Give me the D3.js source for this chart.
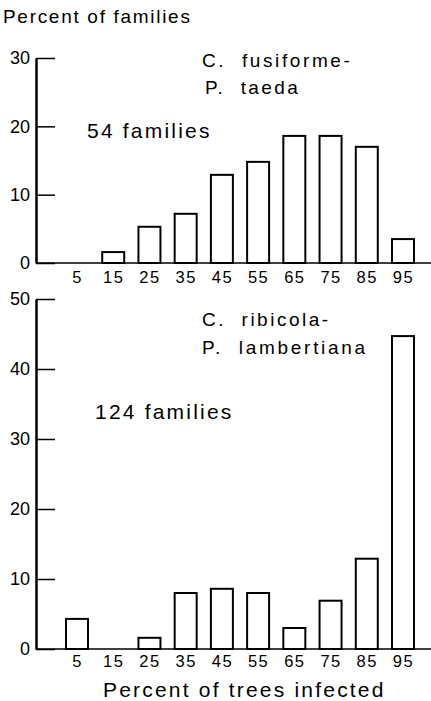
<!DOCTYPE html>
<html>
<head>
<meta charset="utf-8">
<script src="https://cdn.jsdelivr.net/npm/d3@7"></script>
<style>
  body { margin: 0; background: #fff; }
  svg text { font-family: "Liberation Sans", Arial, sans-serif; fill: #000; }
</style>
</head>
<body>
<div id="chart"></div>
<script>
// midpoints of infection classes (percent of trees infected)
const classes = [5, 15, 25, 35, 45, 55, 65, 75, 85, 95];

// C. fusiforme - P. taeda, 54 families
const fusiforme = [0, 1.6, 5.3, 7.2, 12.9, 14.8, 18.6, 18.6, 17.0, 3.5];
// C. ribicola - P. lambertiana, 124 families
const ribicola = [4.3, 0, 1.6, 8.0, 8.6, 8.0, 3.0, 6.9, 12.9, 44.7];

const topTicks = [0, 10, 20, 30];
const bottomTicks = [0, 10, 20, 30, 40, 50];

const width = 431;
const height = 701;
const axisX = 36;

const svg = d3.select("#chart")
    .append("svg")
    .attr("width", width)
    .attr("height", height);

const xScale = d3.scaleLinear()
    .domain([5, 95])
    .range([77, 403]);

const barW = 22;

function panel(values, ticks, yMax, yRange, labelPad) {
    const yScale = d3.scaleLinear()
        .domain([0, yMax])
        .range(yRange);

    const g = svg.append("g");

    // bars
    g.selectAll("rect")
        .data(values)
        .enter()
        .append("rect")
        .attr("x", function(d, i) { return xScale(classes[i]) - barW / 2; })
        .attr("y", function(d) { return yScale(d); })
        .attr("width", barW)
        .attr("height", function(d) { return yScale(0) - yScale(d); })
        .attr("fill", "#fff")
        .attr("stroke", "#000")
        .attr("stroke-width", 2);

    // baseline runs to the right edge
    g.append("line")
        .attr("x1", axisX)
        .attr("x2", width)
        .attr("y1", yScale(0))
        .attr("y2", yScale(0))
        .attr("stroke", "#000")
        .attr("stroke-width", 1.5);

    // y axis, ticks pointing inward
    const yAxis = g.append("g")
        .attr("transform", `translate(${axisX},0)`)
        .call(d3.axisLeft(yScale).tickValues(ticks).tickSizeInner(-19).tickSizeOuter(0));
    yAxis.select(".domain").attr("stroke-width", 2.5);
    yAxis.selectAll(".tick line").attr("stroke-width", 1.5);
    yAxis.selectAll("text")
        .style("font-size", "18px")
        .attr("x", -6);

    // x labels
    const xAxis = g.append("g")
        .attr("transform", `translate(0,${yScale(0)})`)
        .call(d3.axisBottom(xScale).tickValues(classes).tickSize(0).tickPadding(labelPad));
    xAxis.select(".domain").remove();
    xAxis.selectAll("text")
        .style("font-size", "16.5px")
        .style("letter-spacing", "1.5px")
        .attr("dy", "0.71em");

    return yScale;
}

panel(fusiforme, topTicks, 30, [263, 58], 8);
panel(ribicola, bottomTicks, 50, [649, 299], 6);

function label(txt, x, y, size, spacing) {
    svg.append("text")
        .attr("x", x)
        .attr("y", y)
        .style("font-size", size + "px")
        .style("letter-spacing", spacing + "px")
        .style("white-space", "pre")
        .text(txt);
}

label("Percent of families", 3, 23, 19, 1.7);
label("C.  fusiforme-", 202, 67, 19, 2.6);
label("P.  taeda", 205, 94, 19, 2.4);
label("54 families", 87, 138, 21, 2.2);
label("C.  ribicola-", 202, 326, 19, 2.5);
label("P.  lambertiana", 202, 354, 19, 2.7);
label("124 families", 95, 419, 21, 2.2);
label("Percent of trees infected", 103, 697, 21, 2.2);
</script>
</body>
</html>
